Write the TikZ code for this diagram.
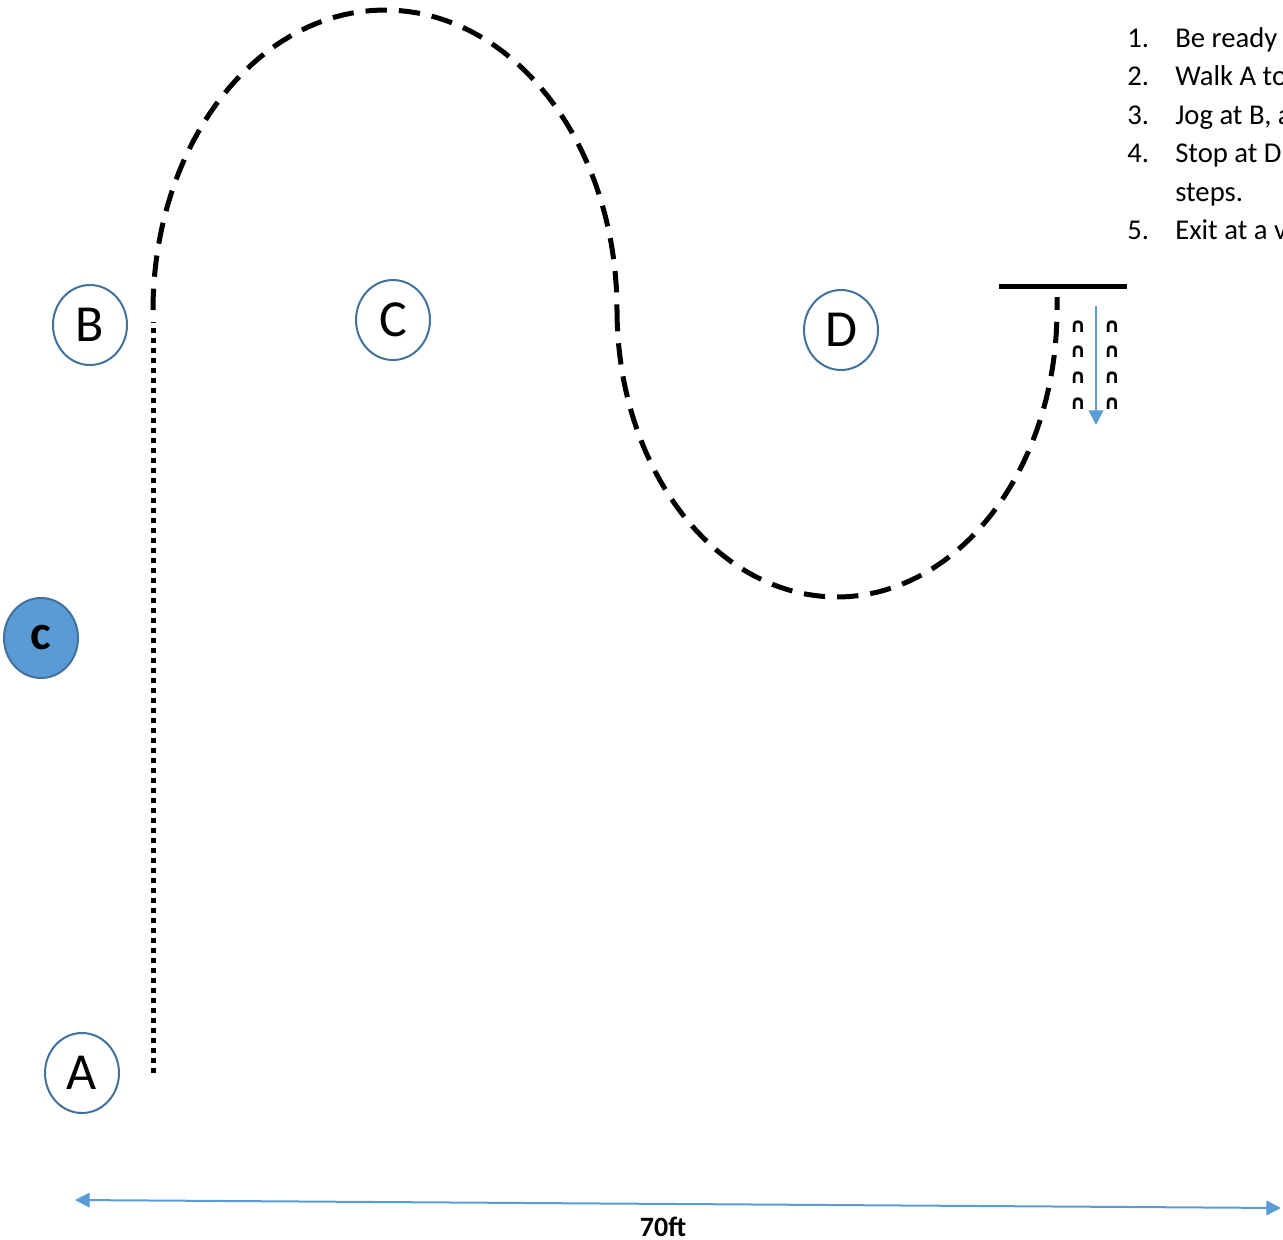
\documentclass[tikz,border=0pt]{standalone}
\usepackage{fontspec}
\setmainfont{Carlito}
\newfontfamily\symfont{DejaVu Sans}
\usepackage{tikz}
\usetikzlibrary{arrows.meta,shapes.geometric}
\definecolor{ringblue}{HTML}{41719C}
\definecolor{fillblue}{HTML}{5B9BD5}

\begin{document}
\begin{tikzpicture}[x=0.75pt,y=-0.75pt,>={Triangle[length=11pt,width=11pt]}]
  \tikzstyle{every node}=[inner sep=0pt]
  \tikzstyle{cone}=[ellipse,draw=ringblue,line width=1.5pt,minimum width=55.5pt,
                    minimum height=60pt,font=\fontsize{39}{39}\selectfont]
  \tikzstyle{route}=[line width=3.75pt,dash pattern=on 16pt off 9pt]
  \tikzstyle{walk}=[line width=3.75pt,dash pattern=on 3.75pt off 3.75pt]
  \tikzstyle{item}=[anchor=base west,font=\fontsize{21.5}{24}\selectfont]
  \tikzstyle{stepmark}=[font=\symfont\bfseries\fontsize{15}{15}\selectfont]

  \useasboundingbox (0,0) rectangle (1283,1240);

  % cones
  \node[cone] (A) at (82,1073) {A};
  \node[cone] (B) at (90,325)  {B};
  \node[cone] (C) at (393,320) {C};
  \node[cone] (D) at (841,330) {D};
  \node[cone,fill=fillblue,font=\bfseries\fontsize{37}{37}\selectfont] (Cone) at (41,638) {c};

  % walk A to B
  \coordinate (Start) at (153,1073);
  \coordinate (Turn)  at (153,322);
  \draw[walk] (Start) -- (Turn);

  % jog round C and D
  \draw[route] (153,308)
      plot[domain=180:0,samples=80] ({385+232*cos(\x)},{310-300*sin(\x)})
      plot[domain=180:360,samples=80] ({837+220*cos(\x)},{310-287*sin(\x)})
      -- (1057,297);

  % stop line and steps
  \coordinate (BarL) at (999,286);
  \coordinate (BarR) at (1127,286);
  \draw[line width=3.75pt] (BarL) -- (BarR);
  \foreach \y in {327,352,378,404} {
    \node[stepmark] at (1078,\y) {∩};
    \node[stepmark] at (1112,\y) {∩};
  }
  \coordinate (Back1) at (1096,306);
  \coordinate (Back2) at (1096,425);
  \draw[->,fillblue,line width=1.5pt] (Back1) -- (Back2);

  % instructions
  \foreach \n/\t/\y in {1/Be ready/47,2/Walk A to/85,3/{Jog at B, a}/124,4/Stop at D/162,5/Exit at a v/239} {
    \node[item] at (1127,\y) {\n.};
    \node[item] at (1175,\y) {\t};
  }
  \node[item] at (1175,201) {steps.};

  % distance
  \coordinate (Left)  at (75,1200);
  \coordinate (Right) at (1281,1208);
  \draw[<->,fillblue,line width=1.5pt] (Left) -- (Right);
  \node[font=\bfseries\fontsize{21}{21}\selectfont] (Dist) at (663,1227) {70ft};
\end{tikzpicture}
\end{document}
